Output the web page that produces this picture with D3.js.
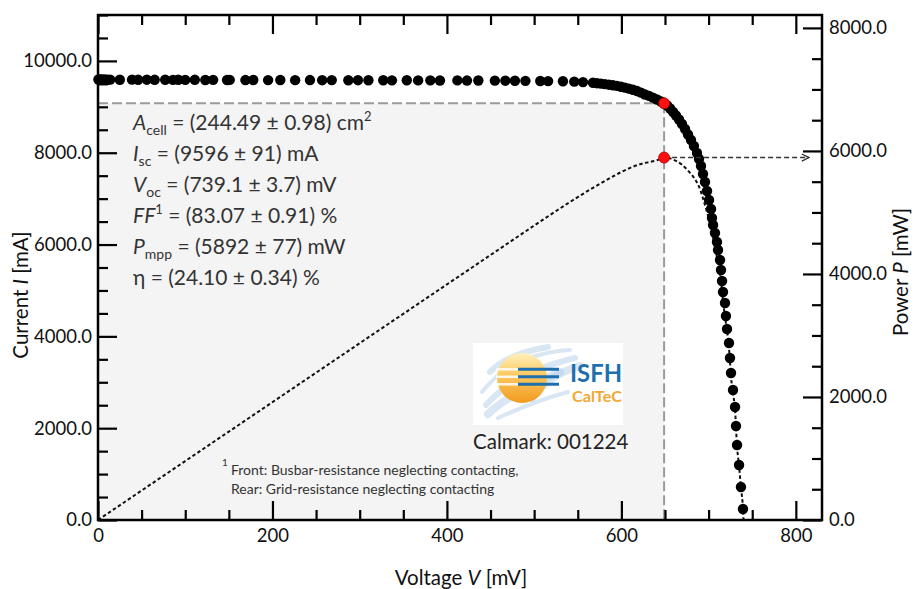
<!DOCTYPE html>
<html><head><meta charset="utf-8">
<script src="https://cdn.jsdelivr.net/npm/d3@7"></script>
<style>body{margin:0;background:#fff} svg{display:block} text{font-family:Lato,"Open Sans",sans-serif}</style>
</head><body><svg id="c" width="914" height="589"></svg>
<script>
// ---- data ----
const voltage = [0.5,2,4,6,8,11,14,25,39,46,56,65,77,86,92,100,111,123,132,148,151,169,178,195,209,226,243,257,268,287,298,310,327,337,354,367,381,392,412,423,436,455,467,478,490,507,516,533,546,556,
 567.5,572.1,576.6,581.2,585.8,590.4,595,599.6,604.1,608.7,613.3,617.9,622.5,627.1,631.7,636.2,640.8,645.4,648.9,652.5,655.9,659.3,662.6,666.1,669.5,673,676.4,679.8,683.2,686.7,689,691.3,693.6,695.9,698.2,700.5,702.8,703.9,705.1,707.3,709.6,710.8,713.1,714.2,715.4,716.5,718.8,719.9,721.1,723.4,724.5,725.7,728,730.3,731.4,732.6,734.9,737.1,739.4];
const current = [9596,9594,9597,9592,9595,9590,9593,9590,9592,9589,9591,9588,9590,9587,9589,9586,9588,9585,9587,9584,9586,9583,9585,9582,9584,9581,9583,9580,9582,9579,9580,9578,9579,9577,9578,9575,9577,9574,9575,9572,9573,9570,9569,9567,9566,9562,9560,9556,9548,9538,
 9525,9515,9505,9494,9482,9470,9456,9438,9418,9396,9372,9343,9310,9268,9238,9200,9160,9115,9077,9029,8963,8887,8811,8724,8626,8517,8397,8277,8146,7994,7863,7711,7536,7362,7166,6970,6774,6578,6426,6251,6055,5881,5663,5446,5206,4966,4727,4443,4160,3855,3528,3202,2832,2461,2047,1634,1198,719,240];
const powerV = [0,50,100,150,200,250,300,350,400,450,500,540,567.5,585.8,599.6,613.3,627.1,640.8,648.9,655.9,662.6,669.5,676.4,683.2,689,693.6,698.2,702.8,707.3,710.8,714.2,716.5,719.9,723.4,725.7,728,730.3,732.6,734.9,737.1,739.4,740];
const powerP = [0,479,958,1437,1916,2395,2874,3352,3830,4308,4786,5160,5401,5550,5655,5744,5805,5848,5892,5879,5838,5775,5680,5565,5418,5227,5004,4761,4421,4180,3890,3558,3198,2789,2324,2062,1797,1197,880,530,177,0];
const mpp = {V:649, I:9077, P:5892};
const xTicks = [0,200,400,600,800];
const iTicks = [0,2000,4000,6000,8000,10000];
const pTicks = [0,2000,4000,6000,8000];
const resultLines = [
 [["A","i"],["cell","sub"],[" = (244.49 ± 0.98) cm",""],["2","sup"]],
 [["I","i"],["sc","sub"],[" = (9596 ± 91) mA",""]],
 [["V","i"],["oc","sub"],[" = (739.1 ± 3.7) mV",""]],
 [["FF","i"],["1","sup"],[" = (83.07 ± 0.91) %",""]],
 [["P","i"],["mpp","sub"],[" = (5892 ± 77) mW",""]],
 [["η = (24.10 ± 0.34) %",""]]
];
const footnote = ["Front: Busbar-resistance neglecting contacting,","Rear: Grid-resistance neglecting contacting"];
const calmark = "Calmark: 001224";

// ---- layout ----
const L=98,R=822,T=15,B=520;
const svg=d3.select("#c");
const x=d3.scaleLinear([0,830],[L,R]);
const yI=d3.scaleLinear([0,11000],[B,T]);
const yP=d3.scaleLinear([0,8210],[B,T]);
const range=(a,b,s)=>d3.range(a,b+0.001,s);

// grey MPP area
svg.append("rect").attr("x",x(0)).attr("y",yI(mpp.I)).attr("width",x(mpp.V)-x(0)).attr("height",yI(0)-yI(mpp.I)).attr("fill","#f4f4f4");
svg.append("line").attr("x1",x(0)).attr("x2",x(mpp.V)).attr("y1",yI(mpp.I)).attr("y2",yI(mpp.I)).attr("stroke","#9a9a9a").attr("stroke-width",2).attr("stroke-dasharray","10,4");
svg.append("line").attr("x1",x(mpp.V)).attr("x2",x(mpp.V)).attr("y1",yI(mpp.I)).attr("y2",yI(0)).attr("stroke","#9a9a9a").attr("stroke-width",2).attr("stroke-dasharray","10,4");

// text block
const tb=svg.append("g").attr("fill","#333");
resultLines.forEach((segs,i)=>{
  const t=tb.append("text").attr("x",133).attr("y",130+i*31).attr("font-size",21);
  let shift=0;
  segs.forEach(([s,st])=>{
    const sp=t.append("tspan").text(s);
    let target=0;
    if(st==="i") sp.attr("font-style","italic");
    if(st==="sub"){target=5;sp.attr("font-size",14);}
    if(st==="sup"){target=-9;sp.attr("font-size",13);}
    sp.attr("dy",target-shift); shift=target;
  });
});

// logo
const lg=svg.append("g");
const defs=svg.append("defs");
const gr=defs.append("linearGradient").attr("id","sun").attr("x1",0).attr("y1",0).attr("x2",0).attr("y2",1);
gr.append("stop").attr("offset","0").attr("stop-color","#fff1bd");
gr.append("stop").attr("offset","0.45").attr("stop-color","#fbc860");
gr.append("stop").attr("offset","1").attr("stop-color","#f29a1e");
lg.append("rect").attr("x",473).attr("y",343).attr("width",150).attr("height",82).attr("fill","#fff");
const brush=["M570,350 C540,352 505,362 482,392","M575,358 C545,365 510,378 486,405","M560,372 C535,382 505,398 488,414","M568,392 C545,398 520,408 498,418","M548,347 C530,350 505,356 490,372","M580,366 C560,372 545,380 532,398"];
brush.forEach((d,i)=>lg.append("path").attr("d",d).attr("fill","none").attr("stroke","#b3cde8").attr("stroke-width",4+(i%3)*2).attr("opacity",0.5).attr("stroke-linecap","round"));
lg.append("circle").attr("cx",522).attr("cy",378).attr("r",25).attr("fill","url(#sun)");
[369.3,376.8,384.3].forEach(yy=>{
  lg.append("line").attr("x1",496).attr("x2",518).attr("y1",yy).attr("y2",yy).attr("stroke","#fff").attr("stroke-width",2.5).attr("opacity",0.85);
  lg.append("line").attr("x1",518).attr("x2",559).attr("y1",yy).attr("y2",yy).attr("stroke","#1e6fae").attr("stroke-width",3);
});
lg.append("text").attr("x",570).attr("y",382).attr("font-family","Liberation Sans, Arial, sans-serif").attr("font-weight","bold").attr("font-size",24).attr("fill","#1e6fae").attr("textLength",52).attr("lengthAdjust","spacingAndGlyphs").text("ISFH");
lg.append("text").attr("x",572).attr("y",402).attr("font-family","Liberation Sans, Arial, sans-serif").attr("font-weight","bold").attr("font-size",15).attr("fill","#f2a833").attr("textLength",50).attr("lengthAdjust","spacingAndGlyphs").text("CalTeC");
svg.append("text").attr("x",473).attr("y",449).attr("font-size",20.5).attr("fill","#222").text(calmark);

// footnote
const fn=svg.append("g").attr("fill","#333").attr("font-size",14);
fn.append("text").attr("x",222).attr("y",466).attr("font-size",10).text("1");
footnote.forEach((s,i)=>fn.append("text").attr("x",231).attr("y",475+i*18.5).text(s));

// power curve
svg.append("path").datum(powerV.map((v,i)=>[v,powerP[i]]))
  .attr("d",d3.line().x(d=>x(d[0])).y(d=>yP(d[1])).curve(d3.curveMonotoneX))
  .attr("fill","none").attr("stroke","#111").attr("stroke-width",2).attr("stroke-dasharray","3.5,2.5");

// IV dots
svg.append("g").selectAll("circle").data(voltage.map((v,i)=>[v,current[i]])).join("circle")
  .attr("cx",d=>x(d[0])).attr("cy",d=>yI(d[1])).attr("r",5.2).attr("fill","#000");

// arrow
defs.append("marker").attr("id","ah").attr("viewBox","0 0 10 10").attr("refX",9).attr("refY",5).attr("markerWidth",9).attr("markerHeight",9).attr("markerUnits","userSpaceOnUse").attr("orient","auto")
  .append("path").attr("d","M1,1 L9,5 L1,9").attr("fill","none").attr("stroke","#333").attr("stroke-width",1.5);
svg.append("line").attr("x1",x(mpp.V)).attr("x2",R-13).attr("y1",yP(mpp.P)).attr("y2",yP(mpp.P))
  .attr("stroke","#333").attr("stroke-width",1.5).attr("stroke-dasharray","5,3").attr("marker-end","url(#ah)");

// red MPP dots
[[x(mpp.V),yI(mpp.I)],[x(mpp.V),yP(mpp.P)]].forEach(p=>svg.append("circle").attr("cx",p[0]).attr("cy",p[1]).attr("r",5.5).attr("fill","#ff1010").attr("stroke","#a00").attr("stroke-width",0.8));

// axes
const fmt=d3.format(".1f");
function styleAxis(g){g.select(".domain").remove();g.selectAll("line").attr("stroke","#000").attr("stroke-width",2.2);g.selectAll("text").attr("font-family","Lato,sans-serif").attr("font-size",18.5).attr("fill","#111");}
const xMinor=range(0,800,50).filter(v=>v%200!==0), iMinor=range(0,11000,500).filter(v=>v%2000!==0), pMinor=range(0,8000,500).filter(v=>v%2000!==0);
svg.append("g").attr("transform",`translate(0,${B})`).call(d3.axisBottom(x).tickValues(xTicks).tickFormat(d3.format("d")).tickSizeInner(-19).tickSizeOuter(0).tickPadding(9)).call(styleAxis);
svg.append("g").attr("transform",`translate(0,${B})`).call(d3.axisBottom(x).tickValues(xMinor).tickFormat("").tickSizeInner(-10).tickSizeOuter(0)).call(styleAxis);
svg.append("g").attr("transform",`translate(0,${T})`).call(d3.axisTop(x).tickValues(xTicks).tickFormat("").tickSizeInner(-19).tickSizeOuter(0)).call(styleAxis);
svg.append("g").attr("transform",`translate(0,${T})`).call(d3.axisTop(x).tickValues(xMinor).tickFormat("").tickSizeInner(-10).tickSizeOuter(0)).call(styleAxis);
svg.append("g").attr("transform",`translate(${L},0)`).call(d3.axisLeft(yI).tickValues(iTicks).tickFormat(fmt).tickSizeInner(-19).tickSizeOuter(0).tickPadding(6)).call(styleAxis);
svg.append("g").attr("transform",`translate(${L},0)`).call(d3.axisLeft(yI).tickValues(iMinor).tickFormat("").tickSizeInner(-10).tickSizeOuter(0)).call(styleAxis);
svg.append("g").attr("transform",`translate(${R},0)`).call(d3.axisRight(yP).tickValues(pTicks).tickFormat(fmt).tickSizeInner(-19).tickSizeOuter(0).tickPadding(7)).call(styleAxis);
svg.append("g").attr("transform",`translate(${R},0)`).call(d3.axisRight(yP).tickValues(pMinor).tickFormat("").tickSizeInner(-10).tickSizeOuter(0)).call(styleAxis);
svg.append("rect").attr("x",L).attr("y",T).attr("width",R-L).attr("height",B-T).attr("fill","none").attr("stroke","#000").attr("stroke-width",2.5);

// axis titles
function title(tx,ty,rot,main,ital,rest){
  const t=svg.append("text").attr("transform",`translate(${tx},${ty}) rotate(${rot})`).attr("text-anchor","middle").attr("font-size",20.5).attr("fill","#111");
  t.append("tspan").text(main); t.append("tspan").attr("font-style","italic").text(ital); t.append("tspan").text(rest);
}
title(461,585,0,"Voltage ","V"," [mV]");
title(28,295,-90,"Current ","I"," [mA]");
title(908,272,-90,"Power ","P"," [mW]");
</script></body></html>
